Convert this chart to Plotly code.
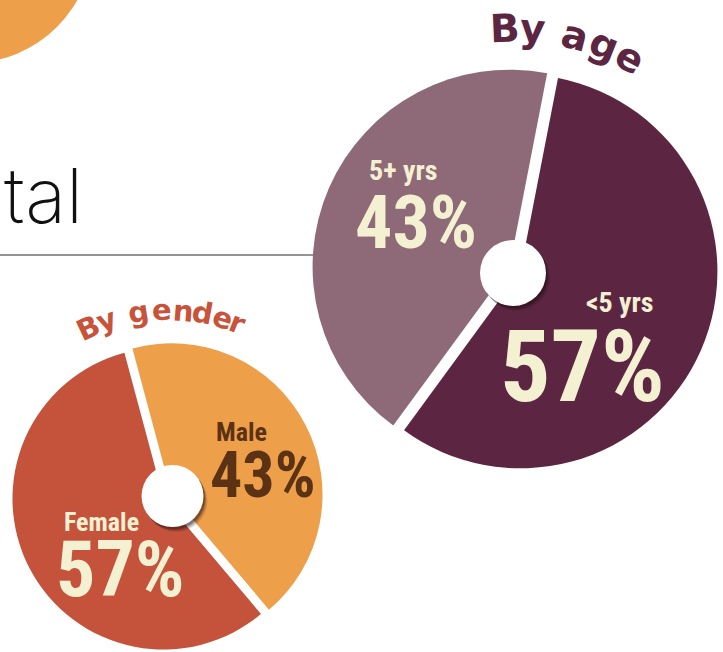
import math
import plotly.graph_objects as go

W, H = 723, 652

# ---- data ----
age_labels = ["<5 yrs", "5+ yrs"]
age_values = [57, 43]
gender_labels = ["Male", "Female"]
gender_values = [43, 57]

age_title = "By age"
gender_title = "By gender"
header_fragment = "ital"

# ---- styles ----
age_colors = ["#5C2642", "#8E6A78"]
gender_colors = ["#EE9F4A", "#C5533B"]
cream = "#F4F1D3"
brown = "#5B3314"
num_font = "Liberation Sans Narrow, Roboto Condensed, DejaVu Sans Condensed, Arial Narrow, sans-serif"
title_font = "DejaVu Sans, Open Sans, sans-serif"


def px(x):
    return x / W


def py(y):
    return 1 - y / H


def domain(cx, cy, R, pull):
    h = R * (1 + pull)
    x = [max(0, (cx - h) / W), min(1, (cx + h) / W)]
    y = [max(0, 1 - (cy + h) / H), min(1, 1 - (cy - h) / H)]
    return dict(x=x, y=y)


AGE_C = (515, 269, 197)
GEN_C = (167.5, 497.5, 152)
PULL = 0.03

fig = go.Figure()
fig.add_trace(go.Pie(
    labels=age_labels, values=age_values, sort=False, direction="clockwise",
    rotation=11, pull=[PULL, PULL], marker=dict(colors=age_colors),
    textinfo="none", hoverinfo="label+percent", showlegend=False,
    domain=domain(*AGE_C, PULL)))
fig.add_trace(go.Pie(
    labels=gender_labels, values=gender_values, sort=False, direction="clockwise",
    rotation=-15, pull=[PULL, PULL], marker=dict(colors=gender_colors),
    textinfo="none", hoverinfo="label+percent", showlegend=False,
    domain=domain(*GEN_C, PULL)))

shapes = []
# decorative orange circle top-left
shapes.append(dict(type="circle", xref="paper", yref="paper", layer="below",
                   x0=px(-153), x1=px(93), y0=py(63), y1=py(-183),
                   fillcolor="#EE9F4A", line=dict(width=0)))
# rule line
shapes.append(dict(type="line", xref="paper", yref="paper", layer="below",
                   x0=0, x1=px(515), y0=py(255), y1=py(255),
                   line=dict(color="#707070", width=1.3)))


def hub(cx, cy, r):
    out = []
    for dx, dy, a in [(4, 5, 0.10), (3, 4, 0.16), (2, 3, 0.22), (1.5, 2, 0.25)]:
        out.append(dict(type="circle", xref="paper", yref="paper", layer="above",
                        x0=px(cx - r + dx), x1=px(cx + r + dx),
                        y0=py(cy + r + dy), y1=py(cy - r + dy),
                        fillcolor=f"rgba(30,10,15,{a})", line=dict(width=0)))
    out.append(dict(type="circle", xref="paper", yref="paper", layer="above",
                    x0=px(cx - r), x1=px(cx + r), y0=py(cy + r), y1=py(cy - r),
                    fillcolor="white", line=dict(width=0)))
    return out


shapes += hub(513, 273, 33)
shapes += hub(172.5, 496, 31)

ann = []


def label(text, x, y, size, color):
    ann.append(dict(text=text, x=px(x), y=py(y), xref="paper", yref="paper",
                    showarrow=False, xanchor="center", yanchor="middle",
                    font=dict(family=num_font, size=size, color=color, weight="bold")))


label(age_labels[1], 403, 171, 28, cream)
label(f"{age_values[1]}%", 416, 222, 74, cream)
label(age_labels[0], 620, 302, 28, cream)
label(f"{age_values[0]}%", 582, 366, 100, cream)
label(gender_labels[0], 242, 432, 26, brown)
label(f"{gender_values[0]}%", 263, 475, 64, brown)
label(gender_labels[1], 101, 522, 26, cream)
label(f"{gender_values[1]}%", 121, 569, 78, cream)


def arc_text(text, angles, cx, cy, rho, size, color):
    chars = [c for c in text if c != " "]
    for ch, a in zip(chars, angles):
        t = math.radians(a)
        x = cx + rho * math.sin(t)
        y = cy - rho * math.cos(t)
        ann.append(dict(text=ch, x=px(x), y=py(y), xref="paper", yref="paper",
                        showarrow=False, xanchor="center", yanchor="middle",
                        textangle=a,
                        font=dict(family=title_font, size=size, color=color, weight="bold")))


arc_text(age_title, [-2.4, 4.2, 14.3, 21.6, 28.5], 515, 269, 241, 39, "#5C2642")
arc_text(gender_title, [-25.1, -19.2, -9.1, -1.9, 4.6, 10.7, 16.9, 21.7], 168, 498, 188, 29, "#C8523A")

ann.append(dict(text=header_fragment, x=px(85), y=py(195), xref="paper", yref="paper",
                showarrow=False, xanchor="right", yanchor="middle",
                font=dict(family="Inter, Lato, Roboto, sans-serif", size=76,
                          color="#111111", weight=200)))

fig.update_layout(width=W, height=H, margin=dict(l=0, r=0, t=0, b=0),
                  paper_bgcolor="white", plot_bgcolor="white",
                  shapes=shapes, annotations=ann)

fig.write_html("out.html", config={"displayModeBar": False},
               post_script="document.body.style.margin='0px';document.body.style.overflow='hidden';")
